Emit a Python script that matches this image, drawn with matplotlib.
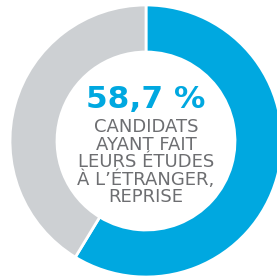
import matplotlib.pyplot as plt

labels = ["Étranger, reprise", "Autres"]
values = [58.7, 41.3]
colors = ["#00A8E0", "#CDD0D3"]
headline = "58,7 %"
caption = ["CANDIDATS", "AYANT FAIT", "LEURS ÉTUDES", "À L’ÉTRANGER,", "REPRISE"]

fig = plt.figure(figsize=(2.77, 2.78), dpi=100)
ax = fig.add_axes([0, 0, 1, 1])

# donut centred slightly right of the middle, cropped at right/bottom
cx, cy = 146, 278 - 141
ax.pie(values, colors=colors, startangle=90, counterclock=False,
       center=(cx, cy), radius=136, frame=True,
       wedgeprops=dict(width=47, edgecolor="white", linewidth=2))
ax.set_xlim(0, 277)
ax.set_ylim(0, 278)
ax.axis("off")

ax.text(cx, 278 - 99, headline, ha="center", va="center",
        fontsize=22.5, fontweight="bold", color="#00A8E0")
for i, line in enumerate(caption):
    ax.text(cx, 278 - (127 + i * 17.6), line, ha="center", va="center",
            fontsize=13, color="#6D6E71")

fig.savefig("out.png", dpi=100)
